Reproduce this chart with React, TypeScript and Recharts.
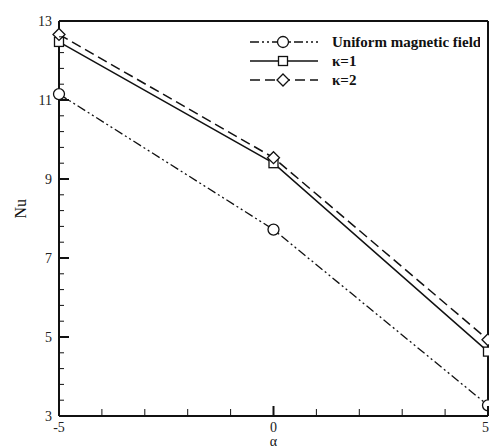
import { Line, LineChart, ReferenceLine, XAxis, YAxis } from "recharts";

const alphaValues = [-5, 0, 5];
const uniformField = [11.15, 7.72, 3.27];
const kappa1 = [12.47, 9.4, 4.63];
const kappa2 = [12.66, 9.54, 4.93];

const xTicks = [-5, -4, -3, -2, -1, 0, 1, 2, 3, 4, 5];
const xLabeled = [-5, 0, 5];
const yTicks = [
  3, 3.4, 3.8, 4.2, 4.6, 5, 5.4, 5.8, 6.2, 6.6, 7, 7.4, 7.8, 8.2, 8.6, 9, 9.4, 9.8, 10.2,
  10.6, 11, 11.4, 11.8, 12.2, 12.6, 13,
];
const yLabeled = [3, 5, 7, 9, 11, 13];

const seriesNames = ["Uniform magnetic field", "κ=1", "κ=2"];

const data = alphaValues.map((a, i) => ({
  alpha: a,
  uniform: uniformField[i],
  k1: kappa1[i],
  k2: kappa2[i],
}));

const ink = "#111";
const serif = "'Liberation Serif', 'DejaVu Serif', serif";

const isLabeled = (v: number, list: number[]) => list.some((l) => Math.abs(l - v) < 1e-6);

function YTick(props: any) {
  const { x, y, payload } = props;
  const major = isLabeled(payload.value, yLabeled);
  return (
    <g>
      <line x1={x} x2={x + (major ? 10 : 5)} y1={y} y2={y} stroke={ink} strokeWidth={major ? 2 : 1} />
      {major && (
        <text x={x - 7} y={y} dy={5} textAnchor="end" fontSize={14} fontFamily={serif} fill="#222">
          {payload.value}
        </text>
      )}
    </g>
  );
}

function XTick(props: any) {
  const { x, y, payload } = props;
  const major = isLabeled(payload.value, xLabeled);
  // the last label sits on the chart's right edge, so keep it inside the picture
  const last = payload.value === xTicks[xTicks.length - 1];
  return (
    <g>
      <line x1={x} x2={x} y1={y} y2={y - (major ? 10 : 7)} stroke={ink} strokeWidth={major ? 2 : 1} />
      {major && (
        <text
          x={last ? x + 1 : x}
          y={y + 16}
          textAnchor={last ? "end" : "middle"}
          fontSize={14}
          fontFamily={serif}
          fill="#222"
        >
          {payload.value}
        </text>
      )}
    </g>
  );
}

function Circle(props: any) {
  const { cx, cy } = props;
  return <circle cx={cx} cy={cy} r={5.5} fill="#fff" stroke={ink} strokeWidth={1.3} />;
}

function Square(props: any) {
  const { cx, cy } = props;
  return <rect x={cx - 4.5} y={cy - 4.5} width={9} height={9} fill="#fff" stroke={ink} strokeWidth={1.3} />;
}

function Diamond(props: any) {
  const { cx, cy } = props;
  const r = 6;
  return (
    <polygon
      points={`${cx},${cy - r} ${cx + r},${cy} ${cx},${cy + r} ${cx - r},${cy}`}
      fill="#fff"
      stroke={ink}
      strokeWidth={1.3}
    />
  );
}

const dashes = ["9 3 2 3 2 3", "", "10 5"];
const markers = [Circle, Square, Diamond];

function LegendBox() {
  return (
    <svg width={240} height={70} style={{ position: "absolute", left: 240, top: 33 }}>
      {seriesNames.map((name, i) => {
        const y = 9 + i * 19;
        const M = markers[i];
        return (
          <g key={name}>
            <line x1={10} x2={78} y1={y} y2={y} stroke={ink} strokeWidth={1.4} strokeDasharray={dashes[i] || undefined} />
            <M cx={43} cy={y} />
            <text x={92} y={y + 5} fontSize={15} fontWeight="bold" fontFamily={serif} fill={ink}>
              {name}
            </text>
          </g>
        );
      })}
    </svg>
  );
}

export default function App() {
  return (
    <div style={{ position: "absolute", left: 0, top: 0, width: 489, height: 448, overflow: "hidden", background: "#fff" }}>
      <LineChart width={489} height={448} data={data} margin={{ top: 21, right: 1, bottom: 8, left: 0 }}>
        <XAxis
          dataKey="alpha"
          type="number"
          domain={[-5, 5]}
          ticks={xTicks}
          interval={0}
          tickLine={false}
          tickSize={0}
          tickMargin={0}
          tick={<XTick />}
          axisLine={{ stroke: ink, strokeWidth: 2 }}
          height={24}
          label={{ value: "α", position: "insideBottom", offset: -6, fontSize: 14, fontFamily: serif, fill: ink }}
        />
        <YAxis
          type="number"
          domain={[3, 13]}
          ticks={yTicks}
          interval={0}
          tickLine={false}
          tickSize={0}
          tickMargin={0}
          tick={<YTick />}
          axisLine={{ stroke: ink, strokeWidth: 2 }}
          width={59}
          label={{ value: "Nu", angle: -90, position: "insideLeft", offset: 20, fontSize: 16, fontFamily: serif, fill: ink }}
        />
        <ReferenceLine y={13} stroke={ink} strokeWidth={2} />
        <ReferenceLine x={5} stroke={ink} strokeWidth={2} />
        <Line
          dataKey="uniform"
          stroke={ink}
          strokeWidth={1.3}
          strokeDasharray={dashes[0]}
          dot={<Circle />}
          isAnimationActive={false}
        />
        <Line dataKey="k1" stroke={ink} strokeWidth={1.5} dot={<Square />} isAnimationActive={false} />
        <Line
          dataKey="k2"
          stroke={ink}
          strokeWidth={1.5}
          strokeDasharray={dashes[2]}
          dot={<Diamond />}
          isAnimationActive={false}
        />
      </LineChart>
      <LegendBox />
    </div>
  );
}
